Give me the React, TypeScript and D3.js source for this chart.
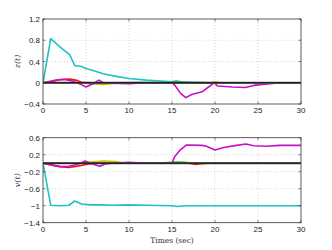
import * as d3 from 'd3';

type Pt = [number, number];

// top panel, z(t)
const zCyan: Pt[] = [[0, 0], [0.9, 0.83], [2, 0.67], [3.1, 0.53], [3.7, 0.32], [4.4, 0.31], [5, 0.27], [6, 0.22], [7, 0.17], [8.5, 0.12], [10, 0.08], [12, 0.05], [15, 0.02], [18, 0.01], [20, 0], [30, 0]];
const zMagenta: Pt[] = [[0, 0], [1.5, 0.05], [2.5, 0.06], [3.5, 0.03], [4.5, -0.04], [5, -0.08], [5.8, -0.02], [6.5, 0.05], [7, 0], [8, -0.01], [10, -0.02], [12, 0], [15, 0], [15.3, -0.04], [16, -0.2], [16.6, -0.28], [17.3, -0.22], [18.5, -0.17], [19.9, 0], [20.3, -0.06], [22, -0.08], [23.5, -0.09], [24.5, -0.05], [25.5, -0.03], [27, -0.01], [30, -0.01]];
const zRed: Pt[] = [[0, 0], [1, 0.02], [2, 0.06], [3, 0.07], [3.8, 0.05], [4.5, 0.01], [5.5, 0], [30, 0]];
const zYellow: Pt[] = [[0, 0], [4.5, 0], [5.5, -0.02], [7, -0.03], [8.5, -0.01], [10, 0], [19.5, 0], [20, 0.02], [20.6, 0], [30, 0]];
const zGreen: Pt[] = [[0, 0], [5, 0], [6, -0.02], [7, -0.01], [8, 0], [14.5, 0.01], [15.5, 0.03], [16.5, 0.01], [17.5, -0.01], [18.5, 0], [30, 0]];

// bottom panel, v(t)
const vCyan: Pt[] = [[0, 0], [0.9, -0.99], [2, -1], [3, -0.99], [3.7, -0.89], [4.5, -0.96], [5.5, -0.98], [7, -0.98], [8, -0.99], [10, -0.98], [12, -0.99], [15, -1], [15.6, -1.02], [16.5, -1], [30, -1]];
const vMagenta: Pt[] = [[0, 0], [1, -0.05], [2, -0.08], [3, -0.07], [4, -0.03], [4.9, 0.05], [5.5, 0], [6.6, -0.07], [7.2, -0.02], [8, 0], [10, 0.02], [12, 0], [15, 0], [15.3, 0.15], [16, 0.32], [16.7, 0.43], [18.5, 0.42], [19, 0.4], [20, 0.31], [21, 0.37], [22.5, 0.42], [23.6, 0.45], [24.5, 0.41], [26, 0.4], [27.5, 0.42], [30, 0.42]];
const vRed: Pt[] = [[0, 0], [1, -0.04], [2, -0.08], [3, -0.1], [4, -0.07], [5, -0.03], [6, 0], [17, 0], [17.8, -0.03], [18.6, 0], [30, 0]];
const vYellow: Pt[] = [[0, 0], [4.5, 0], [5.5, 0.03], [7, 0.05], [8.5, 0.04], [9.5, 0], [18, 0], [18.5, -0.02], [19.5, 0], [30, 0]];
const vGreen: Pt[] = [[0, 0], [10, 0], [14, 0.01], [15.5, 0.03], [16.5, 0.02], [17.5, 0], [30, 0]];
const zeroLine: Pt[] = [[0, 0], [30, 0]];

const xTicks = [0, 5, 10, 15, 20, 25, 30];
const zTicks = [1.2, 0.8, 0.4, 0, -0.4];
const vTicks = [0.6, 0.2, -0.2, -0.6, -1, -1.4];

const tickFont = '"Liberation Sans", Arial, sans-serif';
const labelFont = '"DejaVu Serif", "Liberation Serif", serif';

interface PanelProps {
  top: number;
  height: number;
  domain: [number, number];
  yTicks: number[];
  series: { pts: Pt[]; color: string; width: number }[];
  label: string;
}

function Panel({ top, height, domain, yTicks, series, label }: PanelProps) {
  const left = 43;
  const right = 301;
  const x = d3.scaleLinear().domain([0, 30]).range([left, right]);
  const y = d3.scaleLinear().domain(domain).range([top + height, top]);
  const line = d3.line<Pt>().x(d => x(d[0])).y(d => y(d[1]));
  const bottom = top + height;

  return (
    <g>
      {/* grid */}
      {xTicks.slice(1, -1).map(t => (
        <line key={'gx' + t} x1={x(t)} x2={x(t)} y1={top} y2={bottom} stroke="#b8b8b8" strokeWidth={0.6} strokeDasharray="1,2" />
      ))}
      {yTicks.slice(1, -1).map(t => (
        <line key={'gy' + t} x1={left} x2={right} y1={y(t)} y2={y(t)} stroke="#b8b8b8" strokeWidth={0.6} strokeDasharray="1,2" />
      ))}
      {/* series */}
      <defs>
        <clipPath id={'clip' + top}>
          <rect x={left} y={top} width={right - left} height={height} />
        </clipPath>
      </defs>
      <g clipPath={`url(#clip${top})`}>
        {series.map((s, i) => (
          <path key={i} d={line(s.pts) || ''} fill="none" stroke={s.color} strokeWidth={s.width} strokeLinejoin="round" />
        ))}
      </g>
      {/* frame and ticks */}
      <rect x={left} y={top} width={right - left} height={height} fill="none" stroke="#333" strokeWidth={0.8} />
      {xTicks.map(t => (
        <g key={'tx' + t}>
          <line x1={x(t)} x2={x(t)} y1={bottom} y2={bottom - 2.5} stroke="#333" strokeWidth={0.6} />
          <line x1={x(t)} x2={x(t)} y1={top} y2={top + 2.5} stroke="#333" strokeWidth={0.6} />
          <text x={x(t)} y={bottom + 9} textAnchor="middle" fontFamily={tickFont} fontSize={8} fill="#222">{t}</text>
        </g>
      ))}
      {yTicks.map(t => (
        <g key={'ty' + t}>
          <line x1={left} x2={left + 2.5} y1={y(t)} y2={y(t)} stroke="#333" strokeWidth={0.6} />
          <line x1={right} x2={right - 2.5} y1={y(t)} y2={y(t)} stroke="#333" strokeWidth={0.6} />
          <text x={left - 3} y={y(t) + 3} textAnchor="end" fontFamily={tickFont} fontSize={8} fill="#222">{t === 0 ? '0' : d3.format('')(t).replace('-', '\u2212')}</text>
        </g>
      ))}
      <text transform={`translate(20,${top + height / 2}) rotate(-90)`} textAnchor="middle" fontFamily={labelFont} fontStyle="italic" fontSize={8} fill="#333">{label}</text>
    </g>
  );
}

export default function App() {
  const zSeries = [
    { pts: zGreen, color: '#2cb52c', width: 1.6 },
    { pts: zYellow, color: '#c8c400', width: 1.6 },
    { pts: zRed, color: '#ee1111', width: 1.6 },
    { pts: zMagenta, color: '#c80ec8', width: 1.6 },
    { pts: zCyan, color: '#1fc2c2', width: 1.6 },
    { pts: zeroLine, color: '#555555', width: 2 },
    { pts: zeroLine, color: '#111111', width: 1 },
  ];
  const vSeries = [
    { pts: vGreen, color: '#2cb52c', width: 1.6 },
    { pts: vYellow, color: '#c8c400', width: 1.6 },
    { pts: vRed, color: '#ee1111', width: 1.6 },
    { pts: vMagenta, color: '#c80ec8', width: 1.6 },
    { pts: vCyan, color: '#1fc2c2', width: 1.6 },
    { pts: zeroLine, color: '#555555', width: 2 },
    { pts: zeroLine, color: '#111111', width: 1 },
  ];

  return (
    <svg width={332} height={250} style={{ position: 'absolute', left: 0, top: 0, background: '#fff' }}>
      <Panel top={19} height={85} domain={[-0.4, 1.2]} yTicks={zTicks} series={zSeries} label="z(t)" />
      <Panel top={137.7} height={85} domain={[-1.4, 0.6]} yTicks={vTicks} series={vSeries} label="v(t)" />
      <text x={172} y={243} textAnchor="middle" fontFamily={labelFont} fontSize={7.5} fill="#333">Times (sec)</text>
    </svg>
  );
}
